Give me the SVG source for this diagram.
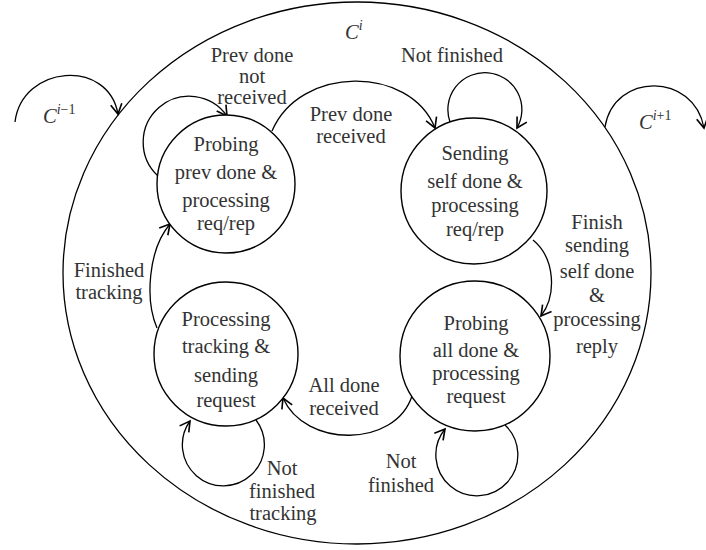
<svg xmlns="http://www.w3.org/2000/svg" width="706" height="550" viewBox="0 0 706 550">
<style>
  .ln { fill: none; stroke: #000; stroke-width: 1.3; }
  .nd { fill: #fff; stroke: #000; stroke-width: 1.4; }
  text { font-family: "Liberation Serif", "DejaVu Serif", serif; font-size: 20.5px; fill: #333; text-anchor: middle; }
  .it { font-style: italic; text-anchor: start; }
  .sup { font-size: 14px; }
  .up { font-style: normal; }
</style>
<defs>
  <marker id="arr" markerUnits="userSpaceOnUse" markerWidth="20" markerHeight="20" refX="0" refY="0" viewBox="-12 -8 14 16" orient="auto" overflow="visible">
    <path d="M-8,-4.5 L0,0 L-8,4.5" fill="none" stroke="#000" stroke-width="1.3"/>
  </marker>
</defs>
<rect width="706" height="550" fill="#fff"/>

<g id="outer">
  <ellipse cx="357" cy="273" rx="294" ry="271" class="ln"/>
  <text class="it" x="345" y="39">C<tspan class="sup" dy="-9">i</tspan></text>
</g>

<g id="connectors">
  <path class="ln" d="M15,122 C 22,65 108,58 118,114" marker-end="url(#arr)"/>
  <path class="ln" d="M605,127 C 614,72 694,72 704,128" marker-end="url(#arr)"/>
  <path class="ln" d="M158,176 A 46 46 0 1 1 227,116" marker-end="url(#arr)"/>
  <path class="ln" d="M272,131 C 300,65 410,65 435,128" marker-end="url(#arr)"/>
  <path class="ln" d="M450,122 A 37 37 0 1 1 517,128" marker-end="url(#arr)"/>
  <path class="ln" d="M533,240 C 555,258 557,295 541,316" marker-end="url(#arr)"/>
  <path class="ln" d="M412,396 C 395,448 305,448 283,398" marker-end="url(#arr)"/>
  <path class="ln" d="M157,328 C 145,300 148,250 170,224" marker-end="url(#arr)"/>
  <path class="ln" d="M256,420 A 41 41 0 1 1 190,421" marker-end="url(#arr)"/>
  <path class="ln" d="M505,425 A 41 41 0 1 1 445,429" marker-end="url(#arr)"/>
</g>

<g id="labels">
  <text class="it" x="43" y="123">C<tspan class="sup" dy="-9">i<tspan class="up">−1</tspan></tspan></text>
  <text class="it" x="639" y="129">C<tspan class="sup" dy="-9">i<tspan class="up">+1</tspan></tspan></text>
  <text x="252" y="62">Prev done</text>
  <text x="252" y="83">not</text>
  <text x="252" y="104">received</text>
  <text x="351" y="121">Prev done</text>
  <text x="351" y="143">received</text>
  <text x="452" y="62">Not finished</text>
  <text x="597" y="229">Finish</text>
  <text x="597" y="252">sending</text>
  <text x="597" y="278">self done</text>
  <text x="597" y="302">&amp;</text>
  <text x="597" y="326">processing</text>
  <text x="597" y="353">reply</text>
  <text x="344" y="392">All done</text>
  <text x="344" y="415">received</text>
  <text x="109" y="277">Finished</text>
  <text x="109" y="299">tracking</text>
  <text x="282" y="475">Not</text>
  <text x="282" y="498">finished</text>
  <text x="283" y="520">tracking</text>
  <text x="401" y="468">Not</text>
  <text x="401" y="492">finished</text>
</g>

<g id="node-probing-prev">
  <circle cx="226" cy="184" r="69" class="nd"/>
  <text x="226" y="151">Probing</text>
  <text x="226" y="179">prev done &amp;</text>
  <text x="226" y="207">processing</text>
  <text x="226" y="230">req/rep</text>
</g>

<g id="node-sending">
  <circle cx="474" cy="191" r="73" class="nd"/>
  <text x="475" y="160">Sending</text>
  <text x="475" y="188">self done &amp;</text>
  <text x="475" y="212">processing</text>
  <text x="475" y="236">req/rep</text>
</g>

<g id="node-processing-tracking">
  <circle cx="226" cy="354" r="72" class="nd"/>
  <text x="226" y="326">Processing</text>
  <text x="226" y="353">tracking &amp;</text>
  <text x="226" y="382">sending</text>
  <text x="226" y="407">request</text>
</g>

<g id="node-probing-all">
  <circle cx="475" cy="356" r="75" class="nd"/>
  <text x="476" y="330">Probing</text>
  <text x="476" y="357">all done &amp;</text>
  <text x="476" y="380">processing</text>
  <text x="476" y="403">request</text>
</g>
</svg>
